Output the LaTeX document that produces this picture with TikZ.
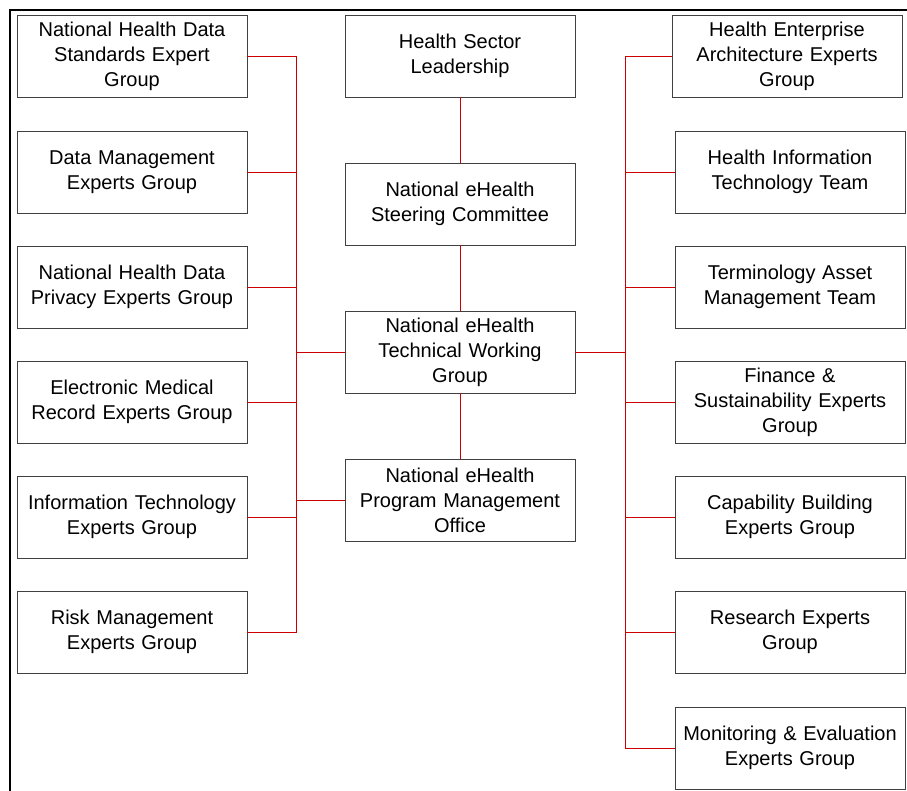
\documentclass[tikz,border=0pt]{standalone}
\usepackage{fontspec}
\setmainfont{Liberation Sans}
\usepackage{tikz}
\usetikzlibrary{positioning}
\usetikzlibrary{shadows}
\definecolor{linkColor}{rgb}{0.8,0,0}
\definecolor{boxColor}{rgb}{0.25,0.25,0.25}

\begin{document}
\begin{tikzpicture}[x=1pt,y=-1pt]

          \tikzstyle{groupNode} = [draw=boxColor, line width=0.8pt, fill=white,
            minimum width=230pt, minimum height=82pt, inner sep=2pt,
            text width=226pt, align=center,
            font=\fontsize{20}{25}\selectfont,
            drop shadow={shadow xshift=1.2pt, shadow yshift=-1.2pt, opacity=0.25}];
          \tikzstyle{linkEdge} = [line width=0.9pt, linkColor];
          \tikzstyle{frameEdge} = [line width=2pt, black];

          \useasboundingbox (0,0) rectangle (907,791);
          \draw[frameEdge] (10,791) -- (10,10) -- (907,10);

          % centre column
          \node[groupNode] (lead) at (460,56) {Health Sector\\Leadership};
          \node[groupNode] (steer) at (460,204) {National eHealth\\Steering Committee};
          \node[groupNode] (twg) at (460,352) {National eHealth\\Technical Working\\Group};
          \node[groupNode] (pmo) at (460,500) {National eHealth\\Program Management\\Office};

          % left column
          \node[groupNode] (std) at (132,56) {National Health Data\\Standards Expert\\Group};
          \node[groupNode] (dm) at (132,172) {Data Management\\Experts Group};
          \node[groupNode] (priv) at (132,287) {National Health Data\\Privacy Experts Group};
          \node[groupNode] (emr) at (132,402) {Electronic Medical\\Record Experts Group};
          \node[groupNode] (it) at (132,517) {Information Technology\\Experts Group};
          \node[groupNode] (risk) at (132,632) {Risk Management\\Experts Group};

          % right column
          \node[groupNode] (hea) at (787,56) {Health Enterprise\\Architecture Experts\\Group};
          \node[groupNode] (hit) at (790,172) {Health Information\\Technology Team};
          \node[groupNode] (term) at (790,287) {Terminology Asset\\Management Team};
          \node[groupNode] (fin) at (790,402) {Finance \&\\Sustainability Experts\\Group};
          \node[groupNode] (cap) at (790,517) {Capability Building\\Experts Group};
          \node[groupNode] (res) at (790,632) {Research Experts\\Group};
          \node[groupNode] (me) at (790,748) {Monitoring \& Evaluation\\Experts Group};

          \coordinate (lbus) at (296,56);
          \coordinate (rbus) at (625,56);

          \draw[linkEdge] (lead) -- (steer);
          \draw[linkEdge] (steer) -- (twg);
          \draw[linkEdge] (twg) -- (pmo);

          \draw[linkEdge] (std.east) -- (lbus) -- (lbus |- risk.east) -- (risk.east);
          \foreach \g in {dm, priv, emr, it}
            \draw[linkEdge] (\g.east) -- (lbus |- \g.east);
          \draw[linkEdge] (twg.west) -- (lbus |- twg.west);
          \draw[linkEdge] (pmo.west) -- (lbus |- pmo.west);

          \draw[linkEdge] (hea.west) -- (rbus) -- (rbus |- me.west) -- (me.west);
          \foreach \g in {hit, term, fin, cap, res}
            \draw[linkEdge] (\g.west) -- (rbus |- \g.west);
          \draw[linkEdge] (twg.east) -- (rbus |- twg.east);
        \end{tikzpicture}
\end{document}
